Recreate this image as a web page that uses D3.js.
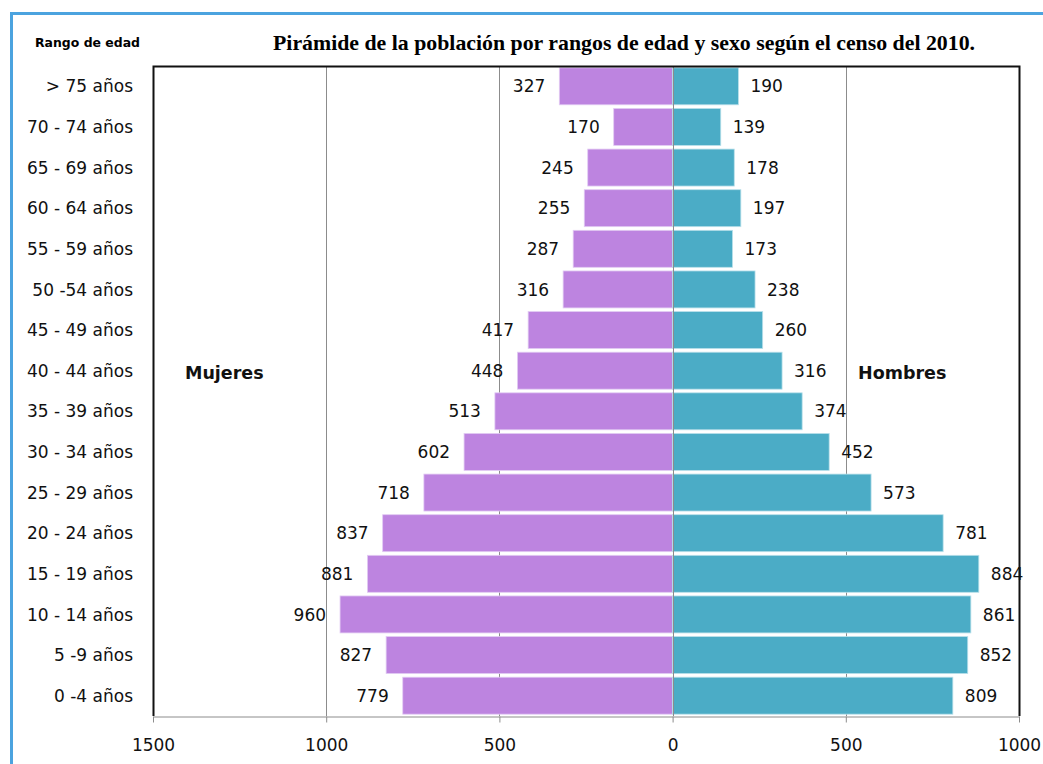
<!DOCTYPE html>
<html>
<head>
<meta charset="utf-8">
<script src="https://cdn.jsdelivr.net/npm/d3@7/dist/d3.min.js"></script>
<style>
  html, body { margin: 0; padding: 0; background: #fff; }
  svg { display: block; }
</style>
</head>
<body>
<svg id="chart" width="1043" height="764"></svg>
<script>
// Age groups, from oldest (top) to youngest (bottom)
const ageGroups = ["> 75 años", "70 - 74 años", "65 - 69 años", "60 - 64 años", "55 - 59 años",
  "50 -54 años", "45 - 49 años", "40 - 44 años", "35 - 39 años", "30 - 34 años",
  "25 - 29 años", "20 - 24 años", "15 - 19 años", "10 - 14 años", "5 -9 años", "0 -4 años"];
const mujeres = [327, 170, 245, 255, 287, 316, 417, 448, 513, 602, 718, 837, 881, 960, 827, 779];
const hombres = [190, 139, 178, 197, 173, 238, 260, 316, 374, 452, 573, 781, 884, 861, 852, 809];
const xTicks = [-1500, -1000, -500, 0, 500, 1000];

const svg = d3.select("#chart");
const plotLeft = 153, plotRight = 1019, plotTop = 66, plotBottom = 716;

const x = d3.scaleLinear().domain([-1500, 1000]).range([plotLeft, plotRight]);
const y = d3.scaleBand().domain(ageGroups).range([plotTop, plotBottom]).paddingInner(0.09).paddingOuter(0.045);

const font = "'DejaVu Sans', Verdana, sans-serif";

// outer frame (blue, top and left edges)
svg.append("line").attr("x1", 11.5).attr("x2", 1043).attr("y1", 13.5).attr("y2", 13.5)
  .attr("stroke", "#4ba3df").attr("stroke-width", 3);
svg.append("line").attr("x1", 11.5).attr("x2", 11.5).attr("y1", 12).attr("y2", 764)
  .attr("stroke", "#4ba3df").attr("stroke-width", 3);

// vertical gridlines
svg.append("g").selectAll("line").data(xTicks.filter(d => d > -1500 && d < 1000)).join("line")
  .attr("x1", d => Math.round(x(d)) + 0.5).attr("x2", d => Math.round(x(d)) + 0.5)
  .attr("y1", plotTop).attr("y2", plotBottom)
  .attr("stroke", "#8c8c8c").attr("stroke-width", 1);

// bars
svg.append("g").selectAll("rect").data(mujeres).join("rect")
  .attr("x", d => x(-d)).attr("width", d => x(0) - x(-d))
  .attr("y", (d, i) => y(ageGroups[i])).attr("height", y.bandwidth())
  .attr("fill", "#bd84e0").attr("stroke", "#e2cbf3").attr("stroke-width", 0.8);
svg.append("g").selectAll("rect").data(hombres).join("rect")
  .attr("x", x(0)).attr("width", d => x(d) - x(0))
  .attr("y", (d, i) => y(ageGroups[i])).attr("height", y.bandwidth())
  .attr("fill", "#4bacc6").attr("stroke", "#b9e0ea").attr("stroke-width", 0.8);

// zero line above the bars
svg.append("line").attr("x1", Math.round(x(0)) + 0.5).attr("x2", Math.round(x(0)) + 0.5)
  .attr("y1", plotTop).attr("y2", plotBottom).attr("stroke", "#8c8c8c").attr("stroke-width", 1);

// value labels
svg.append("g").selectAll("text").data(mujeres).join("text")
  .attr("x", d => x(-d) - 14).attr("y", (d, i) => y(ageGroups[i]) + y.bandwidth() / 2)
  .attr("dy", "0.36em").attr("text-anchor", "end")
  .attr("font-family", font).attr("font-size", 17).attr("fill", "#111")
  .text(d => d);
svg.append("g").selectAll("text").data(hombres).join("text")
  .attr("x", d => x(d) + 12).attr("y", (d, i) => y(ageGroups[i]) + y.bandwidth() / 2)
  .attr("dy", "0.36em").attr("text-anchor", "start")
  .attr("font-family", font).attr("font-size", 17).attr("fill", "#111")
  .text(d => d);

// plot frame: black top, left, right
svg.append("path")
  .attr("d", `M${plotLeft + 0.5},${plotBottom} V${plotTop + 0.5} H${plotRight + 0.5} V${plotBottom}`)
  .attr("fill", "none").attr("stroke", "#111").attr("stroke-width", 2);

// bottom axis
const xAxis = d3.axisBottom(x).tickValues(xTicks).tickFormat(d => Math.abs(d))
  .tickSizeInner(6).tickSizeOuter(0).tickPadding(16);
const ax = svg.append("g").attr("transform", `translate(0,${plotBottom + 0.5})`).call(xAxis);
ax.select(".domain").attr("stroke", "#8c8c8c");
ax.selectAll(".tick line").attr("stroke", "#8c8c8c");
ax.selectAll(".tick text").attr("font-family", font).attr("font-size", 17).attr("fill", "#111");

// category labels
svg.append("g").selectAll("text").data(ageGroups).join("text")
  .attr("x", 133).attr("y", d => y(d) + y.bandwidth() / 2).attr("dy", "0.36em")
  .attr("text-anchor", "end").attr("font-family", font).attr("font-size", 17).attr("fill", "#111")
  .text(d => d);

// titles and side labels
svg.append("text").attr("x", 35).attr("y", 47)
  .attr("font-family", font).attr("font-size", 12.5).attr("font-weight", "bold")
  .attr("textLength", 105).attr("lengthAdjust", "spacingAndGlyphs")
  .text("Rango de edad");
svg.append("text").attr("x", 273).attr("y", 50)
  .attr("font-family", "'Liberation Serif', 'Times New Roman', serif").attr("font-size", 21).attr("font-weight", "bold")
  .attr("textLength", 702).attr("lengthAdjust", "spacingAndGlyphs")
  .text("Pirámide de la población por rangos de edad y sexo según el censo del 2010.");
svg.append("text").attr("x", 185).attr("y", 379)
  .attr("font-family", font).attr("font-size", 17.5).attr("font-weight", "bold").attr("fill", "#111")
  .text("Mujeres");
svg.append("text").attr("x", 858).attr("y", 379)
  .attr("font-family", font).attr("font-size", 17.5).attr("font-weight", "bold").attr("fill", "#111")
  .text("Hombres");
</script>
</body>
</html>
